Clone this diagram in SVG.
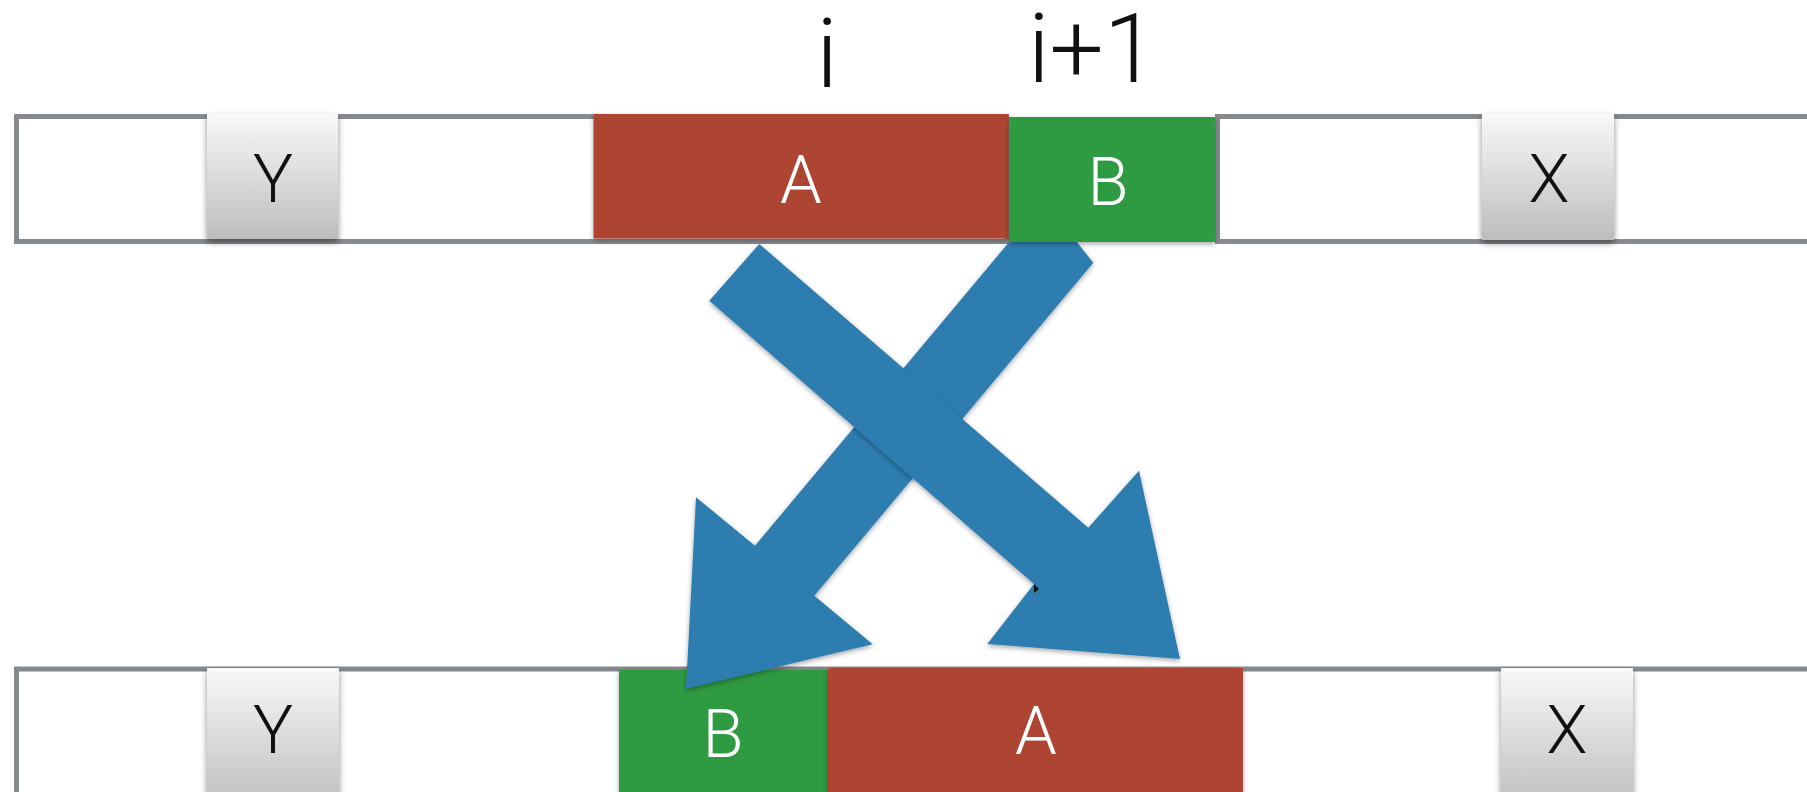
<svg xmlns="http://www.w3.org/2000/svg" width="1807" height="792" viewBox="0 0 1807 792">
  <defs>
    <linearGradient id="keyFill" x1="0" y1="0" x2="0" y2="1">
      <stop offset="0" stop-color="#f9f9f9"/>
      <stop offset="1" stop-color="#bdbdbd"/>
    </linearGradient>
    <filter id="lift" x="-10%" y="-10%" width="120%" height="130%">
      <feDropShadow dx="0" dy="3" stdDeviation="3" flood-color="#000" flood-opacity="0.45"/>
    </filter>
    <filter id="liftSoft" x="-10%" y="-10%" width="120%" height="130%">
      <feDropShadow dx="0" dy="2" stdDeviation="2.5" flood-color="#000" flood-opacity="0.35"/>
    </filter>
  </defs>
  <style>
    .bar { fill: #ffffff; stroke: #86898d; stroke-width: 5; }
    .key { fill: url(#keyFill); filter: url(#lift); }
    .red { fill: #ad4432; filter: url(#liftSoft); }
    .green { fill: #2e9a42; filter: url(#liftSoft); }
    .arrow { fill: #2e7db0; filter: url(#liftSoft); }
    .lbl { font-family: Roboto, "Liberation Sans", sans-serif; font-weight: 300; font-size: 67px; text-anchor: middle; }
    .dark { fill: #111111; }
    .light { fill: #ffffff; }
    .idx { font-family: Roboto, "Liberation Sans", sans-serif; font-weight: 300; font-size: 96px; fill: #111111; }
  </style>

  <rect width="1807" height="792" fill="#ffffff"/>

  <!-- lower array: B now at position i, A at i+1 -->
  <g id="row-after">
    <rect class="bar" x="16.5" y="669" width="1840" height="200"/>
    <g id="after-y">
      <rect class="key" x="207" y="668" width="132" height="140"/>
      <text class="lbl dark" x="273" y="753">Y</text>
    </g>
    <g id="after-b">
      <rect class="green" x="619" y="670" width="209" height="140"/>
      <text class="lbl light" x="723" y="757">B</text>
    </g>
    <g id="after-a">
      <rect class="red" x="828" y="668" width="415" height="140"/>
      <text class="lbl light" x="1036" y="754">A</text>
    </g>
    <g id="after-x">
      <rect class="key" x="1501" y="668" width="132" height="140"/>
      <text class="lbl dark" x="1567" y="753">X</text>
    </g>
  </g>

  <!-- swap arrows -->
  <g id="connectors">
    <polygon id="b-to-i" class="arrow" points="1043.9,200.5 1093.3,262.7 814.3,595.7 872.7,644.3 686,688.7 696,497.3 755,545.7"/>
    <polygon id="a-to-i1" class="arrow" points="709.3,300.7 759.3,244 1088.3,527.7 1139,470.7 1180,659 987.3,644 1034,584"/>
    <polygon points="1034,584 1039,589 1034,593" fill="#111111"/>
  </g>

  <!-- upper array: A at position i, B at i+1 -->
  <g id="row-before">
    <rect class="bar" x="16.5" y="116.5" width="990" height="125"/>
    <rect class="bar" x="1217.5" y="116.5" width="640" height="125"/>
    <g id="before-y">
      <rect class="key" x="207" y="114" width="131" height="125"/>
      <text class="lbl dark" x="273" y="202">Y</text>
    </g>
    <g id="before-a">
      <rect class="red" x="593.5" y="114" width="415" height="124.5"/>
      <text class="lbl light" x="801" y="203">A</text>
    </g>
    <g id="before-b">
      <rect class="green" x="1009" y="117" width="206" height="125"/>
      <text class="lbl light" x="1108" y="205">B</text>
    </g>
    <g id="before-x">
      <rect class="key" x="1482" y="114" width="132" height="126"/>
      <text class="lbl dark" x="1549" y="202">X</text>
    </g>
  </g>

  <!-- position indices -->
  <g id="indices">
    <text class="idx" x="827" y="87" text-anchor="middle">i</text>
    <text class="idx" x="1028" y="82">i+1</text>
  </g>
</svg>
